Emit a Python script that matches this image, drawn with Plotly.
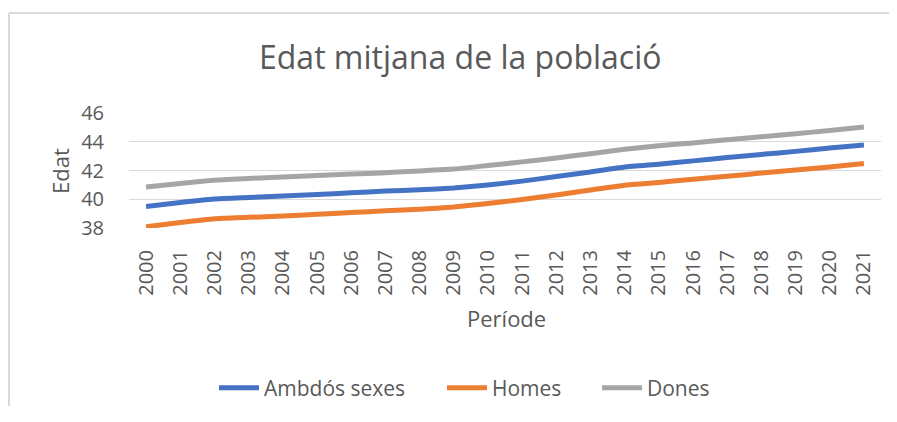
import plotly.graph_objects as go

years = [str(y) for y in range(2000, 2022)]
ambdos = [39.49, 39.78, 40.02, 40.12, 40.22, 40.33, 40.45, 40.57, 40.66, 40.78, 40.99,
          41.26, 41.58, 41.90, 42.24, 42.44, 42.67, 42.90, 43.12, 43.33, 43.56, 43.78]
homes = [38.09, 38.38, 38.64, 38.74, 38.84, 38.95, 39.07, 39.20, 39.30, 39.46, 39.70,
         39.98, 40.30, 40.64, 40.98, 41.17, 41.39, 41.60, 41.82, 42.03, 42.25, 42.48]
dones = [40.85, 41.10, 41.33, 41.45, 41.55, 41.65, 41.75, 41.85, 41.97, 42.10, 42.35,
         42.60, 42.87, 43.17, 43.48, 43.72, 43.92, 44.14, 44.34, 44.56, 44.78, 45.02]
series_names = ["Ambdós sexes", "Homes", "Dones"]
colors = ["#4472C4", "#ED7D31", "#A5A5A5"]
y_ticks = [38, 40, 42, 44, 46]

# page body has an 8px margin; work in screen coordinates and shift,
# and keep the page well inside the window so no scrollbars appear
OFF = 8
W, H = 897 - 2 * OFF, 422 - 2 * OFF - 8
PL, PR, PT, PB = 129, 881, 113, 228  # plot area in screen px
L, T = PL - OFF, PT - OFF
pw, ph = PR - PL, PB - PT
R, B = W - L - pw, H - T - ph

def px(x):
    return (x - PL) / pw

def py(y):
    return (PB - y) / ph

font = "Open Sans, Noto Sans, sans-serif"
txt = "#595959"

legend_ids = ["legend", "legend2", "legend3"]
legend_left = [214, 442, 597]

fig = go.Figure()
for name, vals, c, lg in zip(series_names, [ambdos, homes, dones], colors, legend_ids):
    fig.add_trace(go.Scatter(x=years, y=vals, name=name, mode="lines", legend=lg,
                             line=dict(color=c, width=5, shape="spline", smoothing=0.4)))

leg_common = dict(orientation="h", xanchor="left", y=py(388), yanchor="middle",
                  font=dict(size=21, color=txt), itemwidth=40,
                  bgcolor="rgba(0,0,0,0)")

fig.update_layout(
    width=W, height=H,
    margin=dict(l=L, r=R, t=T, b=B, autoexpand=False),
    paper_bgcolor="white", plot_bgcolor="white",
    font=dict(family=font, color=txt, size=20),
    showlegend=True,
    legend=dict(x=px(legend_left[0]), **leg_common),
    legend2=dict(x=px(legend_left[1]), **leg_common),
    legend3=dict(x=px(legend_left[2]), **leg_common),
    xaxis=dict(type="category", range=[-0.5, 21.5], tickangle=-90, showgrid=False,
               showline=False, zeroline=False, tickfont=dict(size=20, color=txt),
               ticks="outside", ticklen=13, tickcolor="rgba(0,0,0,0)"),
    yaxis=dict(range=[38, 46], tickvals=y_ticks, showgrid=True, gridcolor="#D9D9D9",
               gridwidth=1.3, zeroline=False, showline=False,
               tickfont=dict(size=20, color=txt),
               ticks="outside", ticklen=20, tickcolor="rgba(0,0,0,0)"),
    annotations=[
        dict(text="Edat mitjana de la població", x=px(460), y=py(57),
             xref="paper", yref="paper", showarrow=False,
             xanchor="center", yanchor="middle",
             font=dict(size=32, color=txt, family=font)),
        dict(text="Període", x=px(506), y=py(318), xref="paper", yref="paper",
             showarrow=False, xanchor="center", yanchor="middle",
             font=dict(size=22, color=txt, family=font)),
        dict(text="Edat", x=px(60), y=py(171), xref="paper", yref="paper",
             showarrow=False, xanchor="center", yanchor="middle", textangle=-90,
             font=dict(size=22, color=txt, family=font)),
    ],
    shapes=[
        dict(type="line", xref="paper", yref="paper", x0=px(9), x1=px(9),
             y0=py(13), y1=py(440), line=dict(color="#D9D9D9", width=2)),
        dict(type="line", xref="paper", yref="paper", x0=px(9), x1=px(920),
             y0=py(13), y1=py(13), line=dict(color="#D9D9D9", width=2)),
    ],
)

fig.write_html("out.html")
